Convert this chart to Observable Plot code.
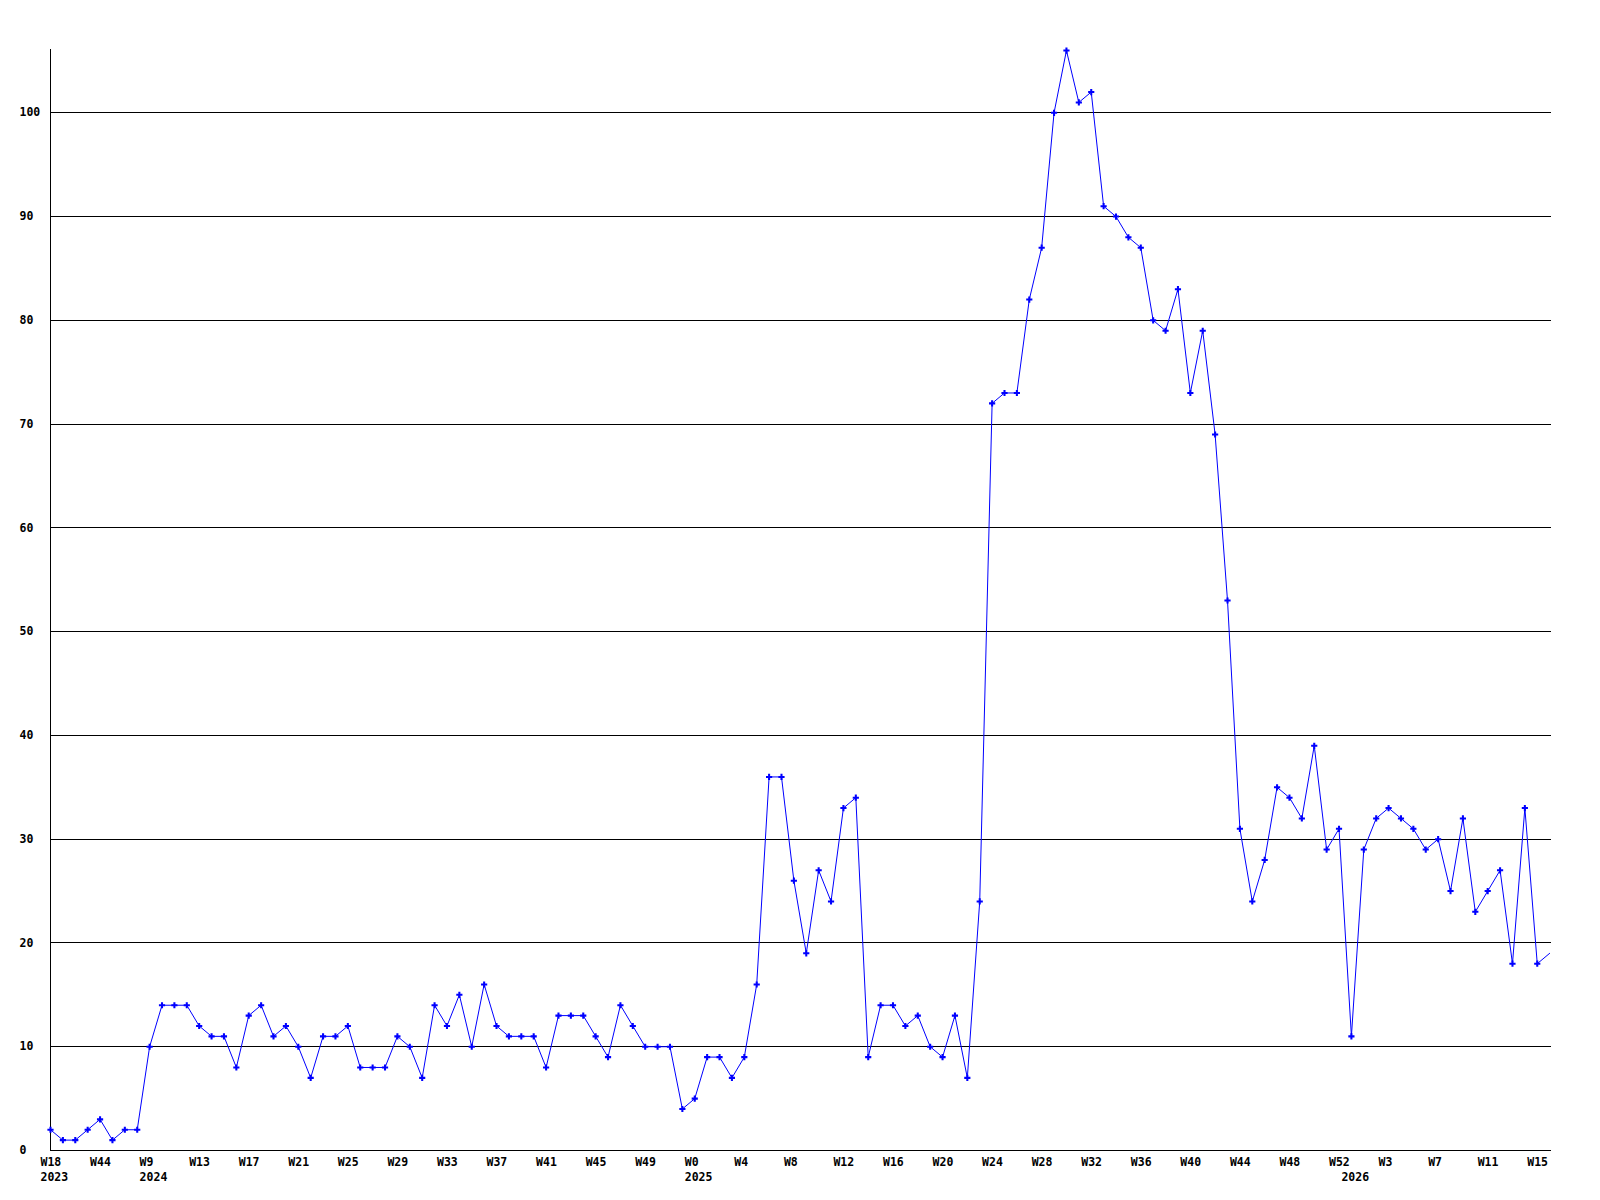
<!DOCTYPE html>
<html>
<head>
<meta charset="utf-8">
<script src="https://cdn.jsdelivr.net/npm/d3@7"></script>
<script src="https://cdn.jsdelivr.net/npm/@observablehq/plot@0.6"></script>
<style>
  html, body { margin: 0; padding: 0; background: #fff; }
  #chart svg { display: block; }
</style>
</head>
<body>
<div id="chart"></div>
<script>
// Weekly values, one per observation (index position along the x axis)
const values = [
  2, 1, 1, 2, 3, 1, 2, 2, 10, 14, 14, 14, 12, 11, 11, 8, 13, 14, 11, 12,
  10, 7, 11, 11, 12, 8, 8, 8, 11, 10, 7, 14, 12, 15, 10, 16, 12, 11, 11, 11,
  8, 13, 13, 13, 11, 9, 14, 12, 10, 10, 10, 4, 5, 9, 9, 7, 9, 16, 36, 36,
  26, 19, 27, 24, 33, 34, 9, 14, 14, 12, 13, 10, 9, 13, 7, 24, 72, 73, 73, 82,
  87, 100, 106, 101, 102, 91, 90, 88, 87, 80, 79, 83, 73, 79, 69, 53, 31, 24, 28, 35,
  34, 32, 39, 29, 31, 11, 29, 32, 33, 32, 31, 29, 30, 25, 32, 23, 25, 27, 18, 33,
  18, 19
];

// Week tick labels, one every 4 observations
const weekLabels = [
  "W18", "W44", "W9", "W13", "W17", "W21", "W25", "W29", "W33", "W37", "W41",
  "W45", "W49", "W0", "W4", "W8", "W12", "W16", "W20", "W24", "W28", "W32",
  "W36", "W40", "W44", "W48", "W52", "W3", "W7", "W11", "W15"
];
const weekIndex = weekLabels.map((_, i) => i * 4);

// Year labels and the observation where each year starts
const yearLabels = ["2023", "2024", "2025", "2026"];
const yearIndex = [0, 8, 52, 105];

// Y axis ticks
const yTicks = [0, 10, 20, 30, 40, 50, 60, 70, 80, 90, 100];
const gridValues = [10, 20, 30, 40, 50, 60, 70, 80, 90, 100];

const data = values.map((v, i) => ({i, v}));
const weeks = weekLabels.map((t, k) => ({i: weekIndex[k], t}));
const years = yearLabels.map((t, k) => ({i: yearIndex[k], t}));

const font = "'DejaVu Sans Mono', 'Liberation Mono', monospace";
const blue = "#0000ff";

const chart = Plot.plot({
  width: 1600,
  height: 1200,
  marginLeft: 50,
  marginRight: 49,
  marginTop: 49,
  marginBottom: 50,
  style: {fontFamily: font, fontSize: "11.5px", fontWeight: "bold", background: "#fff", color: "#000"},
  x: {type: "linear", domain: [0, 121.15], axis: null},
  y: {type: "linear", domain: [0, 106.1], axis: null},
  marks: [
    Plot.ruleY(gridValues, {stroke: "#000", strokeWidth: 1, shapeRendering: "crispEdges"}),
    Plot.ruleY([0], {stroke: "#000", strokeWidth: 1, shapeRendering: "crispEdges"}),
    Plot.ruleX([0], {stroke: "#000", strokeWidth: 1, shapeRendering: "crispEdges"}),
    Plot.line(data, {x: "i", y: "v", stroke: blue, strokeWidth: 1, curve: "linear"}),
    Plot.dot(data.slice(0, -1), {x: "i", y: "v", symbol: "cross", r: 2.6, fill: blue, stroke: null}),
    Plot.text(yTicks, {x: () => 0, y: d => d, text: d => String(d), textAnchor: "start", dx: -31, lineAnchor: "middle", fill: "#000"}),
    Plot.text(weeks, {x: "i", y: () => 0, text: "t", textAnchor: "start", dx: -10, dy: 12, lineAnchor: "middle", fill: "#000"}),
    Plot.text(years, {x: "i", y: () => 0, text: "t", textAnchor: "start", dx: -10, dy: 27, lineAnchor: "middle", fill: "#000"})
  ]
});

document.getElementById("chart").appendChild(chart);
</script>
</body>
</html>
